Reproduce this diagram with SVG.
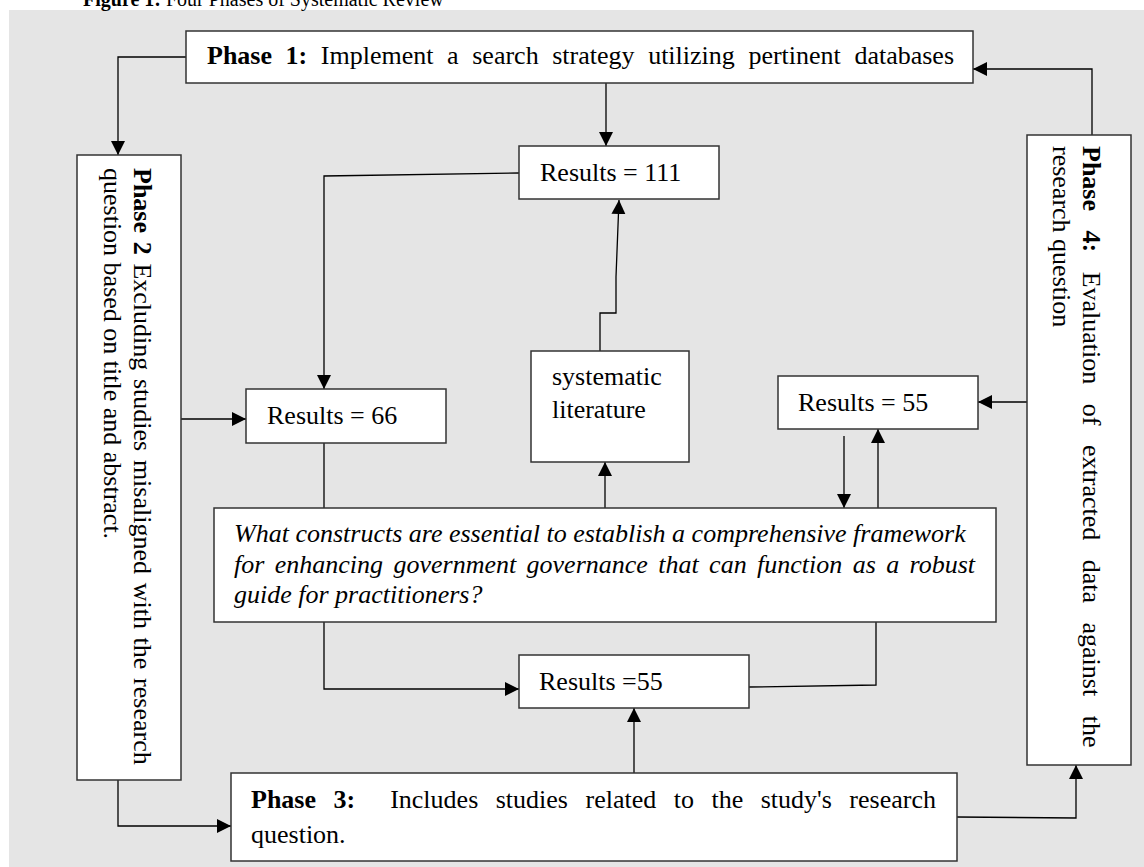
<svg xmlns="http://www.w3.org/2000/svg" width="1144" height="867" viewBox="0 0 1144 867">
<defs>
<marker id="arr" markerUnits="userSpaceOnUse" markerWidth="15" markerHeight="15" refX="14" refY="7" orient="auto">
<path d="M0,0 L14,7 L0,14 z" fill="#000"/>
</marker>
<style>
.box{fill:#fff;stroke:#333;stroke-width:1.5}
.t{font-family:"Liberation Serif","Times New Roman",serif;font-size:26px;fill:#000}
.b{font-weight:bold}
.i{font-style:italic}
.c{fill:none;stroke:#000;stroke-width:1.3}
.a{marker-end:url(#arr)}
</style>
</defs>
<rect x="0" y="0" width="1144" height="867" fill="#fff"/>
<rect x="9" y="10" width="1135" height="857" fill="#e5e5e5"/>
<text class="t" x="83" y="6" style="font-size:20px"><tspan class="b">Figure 1:</tspan> Four Phases of Systematic Review</text>

<g id="connectors">
<polyline class="c a" points="186,57 118,57 118,155"/>
<polyline class="c a" points="606,83 606,146"/>
<polyline class="c a" points="519,173 324,176 324,389"/>
<polyline class="c a" points="600,351 600,313 616,313 616,277 619,200"/>
<polyline class="c a" points="181,419 246,419"/>
<polyline class="c a" points="118,780 118,826 231,826"/>
<polyline class="c a" points="957,817 1076,818 1076,765"/>
<polyline class="c a" points="1092,135 1092,69 973,69"/>
<polyline class="c a" points="1027,402 978,402"/>
<polyline class="c a" points="844,436 844,508"/>
<polyline class="c a" points="878,508 878,429"/>
<polyline class="c a" points="605,508 605,462"/>
<polyline class="c" points="324,443 324,508"/>
<polyline class="c a" points="324,622 324,689 519,689"/>
<polyline class="c" points="749,687 876,685 876,622"/>
<polyline class="c a" points="634,773 634,708"/>
</g>

<g id="phase1">
<rect class="box" x="186" y="31" width="787" height="52"/>
<text class="t" x="207" y="64" style="word-spacing:7.1px"><tspan class="b">Phase 1:</tspan> Implement a search strategy utilizing pertinent databases</text>
</g>

<g id="phase2">
<rect class="box" x="77" y="155" width="104" height="625"/>
<text class="t" transform="translate(134,168) rotate(90)" x="0" y="0" style="word-spacing:2.2px"><tspan class="b">Phase 2</tspan> Excluding studies misaligned with the research</text>
<text class="t" transform="translate(104,168) rotate(90)" x="0" y="0">question based on title and abstract.</text>
</g>

<g id="phase4">
<rect class="box" x="1027" y="135" width="104" height="630"/>
<text class="t" transform="translate(1083,146) rotate(90)" x="0" y="0" style="word-spacing:13px"><tspan class="b">Phase 4:</tspan> Evaluation of extracted data against the</text>
<text class="t" transform="translate(1053,146) rotate(90)" x="0" y="0">research question</text>
</g>

<g id="phase3">
<rect class="box" x="231" y="773" width="726" height="88"/>
<text class="t" x="251" y="808" xml:space="preserve" style="word-spacing:11px"><tspan class="b">Phase 3:</tspan>  Includes studies related to the study's research</text>
<text class="t" x="251" y="843">question.</text>
</g>

<g id="results111">
<rect class="box" x="519" y="146" width="200" height="53"/>
<text class="t" x="540" y="181">Results = 111</text>
</g>

<g id="results66">
<rect class="box" x="246" y="389" width="200" height="54"/>
<text class="t" x="267" y="424">Results = 66</text>
</g>

<g id="systematic">
<rect class="box" x="531" y="351" width="158" height="111"/>
<text class="t" x="552" y="385">systematic</text>
<text class="t" x="552" y="418">literature</text>
</g>

<g id="results55a">
<rect class="box" x="778" y="376" width="200" height="53"/>
<text class="t" x="798" y="411">Results = 55</text>
</g>

<g id="question">
<rect class="box" x="214" y="508" width="782" height="114"/>
<text class="t i" x="234" y="542">What constructs are essential to establish a comprehensive framework</text>
<text class="t i" x="234" y="573" style="word-spacing:3.9px">for enhancing government governance that can function as a robust</text>
<text class="t i" x="234" y="603">guide for practitioners?</text>
</g>

<g id="results55b">
<rect class="box" x="519" y="655" width="230" height="53"/>
<text class="t" x="539" y="690">Results =55</text>
</g>
</svg>
